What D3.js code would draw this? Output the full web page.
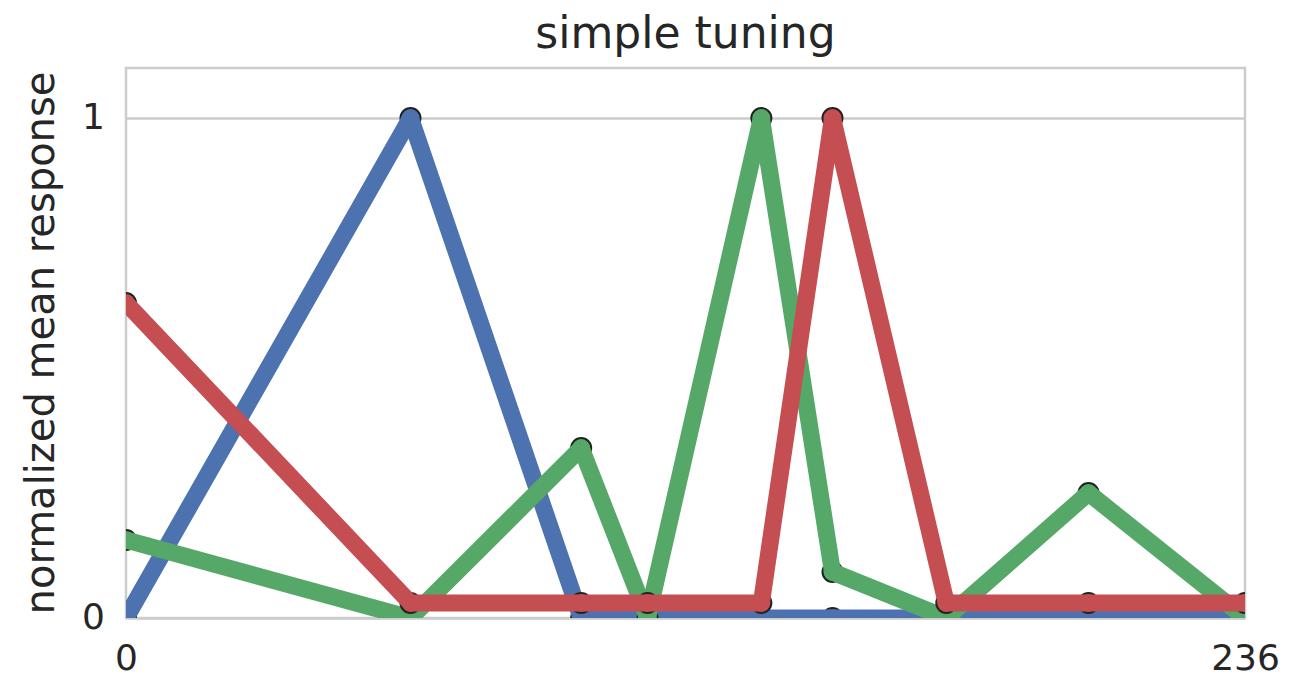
<!DOCTYPE html>
<html>
<head>
<meta charset="utf-8">
<script src="https://cdn.jsdelivr.net/npm/d3@7"></script>
<style>
  html, body { margin: 0; padding: 0; background: #fff; }
  svg { display: block; font-family: "DejaVu Sans", sans-serif; }
</style>
</head>
<body>
<svg id="chart" width="1312" height="680"></svg>
<script>
// Stimulus positions shared by all three units
const stimulus = [0, 60, 96, 110, 134, 149, 173, 203, 236];

// Normalized mean responses per unit
const unitBlue  = [0.0, 1.0, 0.0, 0.0, 0.0, 0.0, 0.0, 0.0, 0.0];
const unitGreen = [0.156, 0.0, 0.34, 0.0, 1.0, 0.092, 0.0, 0.25, 0.0];
const unitRed   = [0.63, 0.03, 0.03, 0.03, 0.03, 1.0, 0.03, 0.03, 0.03];

const seriesNames  = ["unit 1", "unit 2", "unit 3"];
const seriesColors = ["#4C72B0", "#55A868", "#C44E52"];

const xTicks = [0, 236];
const yTicks = [0, 1];

const titleText = "simple tuning";
const yLabelText = "normalized mean response";

const series = [unitBlue, unitGreen, unitRed].map((vals, i) => ({
  name: seriesNames[i],
  color: seriesColors[i],
  points: vals.map((v, j) => ({ x: stimulus[j], y: v }))
}));

const svg = d3.select("#chart");
const margin = { left: 126, right: 1312 - 1245, top: 68, bottom: 680 - 618 };
const W = 1312, H = 680;
const innerW = W - margin.left - margin.right;
const innerH = H - margin.top - margin.bottom;

const x = d3.scaleLinear().domain([0, 236]).range([0, innerW]);
const y = d3.scaleLinear().domain([0, 1.1]).range([innerH, 0]);

const gridColor = "#cccccc";
const textColor = "#262626";

svg.append("defs").append("clipPath").attr("id", "plotClip")
  .append("rect").attr("x", 0).attr("y", 0).attr("width", innerW).attr("height", innerH);

const g = svg.append("g").attr("transform", `translate(${margin.left},${margin.top})`);

// horizontal grid lines
const yGrid = d3.axisLeft(y).tickValues(yTicks).tickSize(-innerW).tickFormat("");
g.append("g").attr("class", "grid").call(yGrid)
  .call(s => s.select(".domain").remove())
  .call(s => s.selectAll("line").attr("stroke", gridColor).attr("stroke-width", 2.5));

// frame
g.append("rect").attr("x", 0).attr("y", 0).attr("width", innerW).attr("height", innerH)
  .attr("fill", "none").attr("stroke", gridColor).attr("stroke-width", 2.5);

// data: markers underneath, line on top, one unit after another
const plot = g.append("g").attr("clip-path", "url(#plotClip)");
const line = d3.line().x(d => x(d.x)).y(d => y(d.y));

series.forEach(s => {
  const sg = plot.append("g").attr("class", "series");
  sg.selectAll("circle").data(s.points).join("circle")
    .attr("cx", d => x(d.x)).attr("cy", d => y(d.y)).attr("r", 10)
    .attr("fill", s.color).attr("stroke", "#222").attr("stroke-width", 2);
  sg.append("path").datum(s.points)
    .attr("d", line).attr("fill", "none")
    .attr("stroke", s.color).attr("stroke-width", 17)
    .attr("stroke-linejoin", "round").attr("stroke-linecap", "butt");
});

// y tick labels
const yAxis = d3.axisLeft(y).tickValues(yTicks).tickSize(0).tickPadding(21).tickFormat(d3.format("d"));
g.append("g").call(yAxis)
  .call(s => s.select(".domain").remove())
  .call(s => s.selectAll("text").attr("fill", textColor).style("font-size", "36px")
      .style("font-family", "DejaVu Sans").attr("dy", "0.3em"));

// x tick labels
const xAxis = d3.axisBottom(x).tickValues(xTicks).tickSize(0).tickPadding(26).tickFormat(d3.format("d"));
g.append("g").attr("transform", `translate(0,${innerH})`).call(xAxis)
  .call(s => s.select(".domain").remove())
  .call(s => s.selectAll("text").attr("fill", textColor).style("font-size", "36px")
      .style("font-family", "DejaVu Sans"));

// title
svg.append("text").attr("x", margin.left + innerW / 2).attr("y", 48)
  .attr("text-anchor", "middle").attr("fill", textColor)
  .style("font-size", "44px").text(titleText);

// y axis label
svg.append("text")
  .attr("transform", `translate(54,${margin.top + innerH / 2}) rotate(-90)`)
  .attr("text-anchor", "middle").attr("fill", textColor)
  .style("font-size", "40px").text(yLabelText);
</script>
</body>
</html>
